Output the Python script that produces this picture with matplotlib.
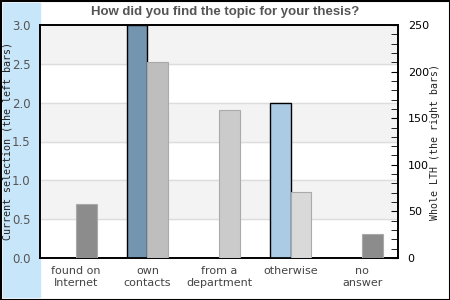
import numpy as np
import matplotlib
matplotlib.use('Agg')
import matplotlib.pyplot as plt
from matplotlib.patches import Rectangle
from matplotlib.ticker import MultipleLocator

# Datos
categories = ['found on\nInternet', 'own\ncontacts', 'from a\ndepartment', 'otherwise', 'no\nanswer']
left_values = [0, 3, 0, 2, 0]
right_values = [58, 210, 159, 71, 26]

left_colors = ['#7495b0', '#7495b0', '#7495b0', '#abcbe5', '#7495b0']
right_colors = ['#8c8c8c', '#bebebe', '#cbcbcb', '#d9d9d9', '#8c8c8c']

fig = plt.figure(figsize=(4.5, 3), dpi=100)

# Banda azul a la izquierda y borde
fig.patches.append(Rectangle((3 / 450, 3 / 300), 37 / 450, 294 / 300,
                             transform=fig.transFigure, color='#c8e6fa', zorder=-10))
fig.patches.append(Rectangle((0.5 / 450, 0.5 / 300), 449 / 450, 299 / 300,
                             transform=fig.transFigure, fill=False,
                             edgecolor='black', linewidth=1.5, zorder=5))

ax = fig.add_axes([40 / 450, 42 / 300, 358 / 450, 233 / 300])
ax2 = ax.twinx()
ax.set_zorder(1)
ax2.set_zorder(2)
ax2.patch.set_visible(False)

x = np.arange(len(categories))
w = 0.29

# Franjas de fondo
for i in range(6):
    if i % 2 == 1:
        ax.axhspan(i * 0.5, (i + 1) * 0.5, color='#f3f3f3', zorder=0)
    ax.axhline(i * 0.5, color='#dddddd', linewidth=1, zorder=0.5)

for i in range(len(categories)):
    if left_values[i] > 0:
        ax.bar(x[i] - w / 2, left_values[i], w, color=left_colors[i],
               edgecolor='black', linewidth=1, zorder=3)
    ax2.bar(x[i] + w / 2, right_values[i], w, color=right_colors[i],
            edgecolor='#aaaaaa', linewidth=0.8, zorder=3)

ax.set_xlim(-0.5, 4.5)
ax.set_ylim(0, 3)
ax2.set_ylim(0, 250)

ax.set_yticks(np.arange(0, 3.01, 0.5))
ax.set_yticklabels(['%.1f' % v for v in np.arange(0, 3.01, 0.5)], color='#555555', fontsize=8.5)
ax.tick_params(axis='y', length=0, pad=7)
ax.set_xticks(x)
ax.set_xticklabels(categories, color='#444444', fontsize=8, linespacing=1.25)
ax.tick_params(axis='x', length=0, pad=6)

ax2.yaxis.set_major_locator(MultipleLocator(50))
ax2.yaxis.set_minor_locator(MultipleLocator(10))
ax2.tick_params(axis='y', which='major', direction='in', length=5, labelsize=8, pad=7)
ax2.tick_params(axis='y', which='minor', direction='in', length=5)

for a in (ax, ax2):
    for s in a.spines.values():
        s.set_linewidth(1.2)

ax.set_ylabel('Current selection (the left bars)', family='DejaVu Sans Mono',
              fontsize=7.2, color='#222222', va='center')
ax.yaxis.set_label_coords(-32 / 358, 0.5)
ax2.set_ylabel('Whole LTH (the right bars)', family='DejaVu Sans Mono',
               fontsize=7.1, color='#222222', va='center')
ax2.yaxis.set_label_coords(1 + 37 / 358, 0.5)

fig.text(0.5, 1 - 12 / 300, 'How did you find the topic for your thesis?',
         ha='center', va='center', fontsize=9.5, fontweight='bold',
         color='#555555', family='Liberation Sans')

plt.savefig('out.png', dpi=100)
